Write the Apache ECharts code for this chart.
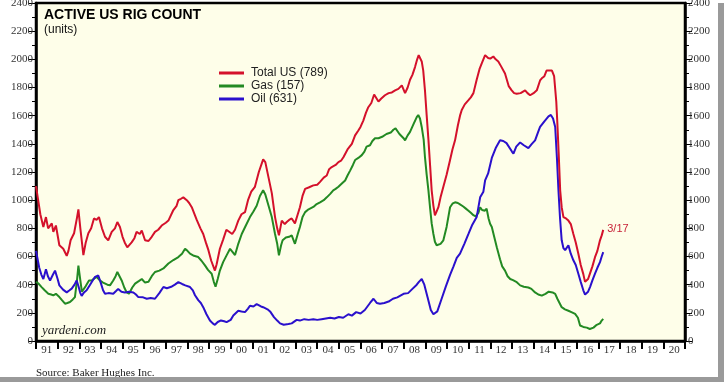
<!DOCTYPE html>
<html>
<head>
<meta charset="utf-8">
<script src="https://cdn.jsdelivr.net/npm/echarts@6/dist/echarts.min.js"></script>
<style>html,body{margin:0;padding:0;background:#fff}#c{width:724px;height:382px}</style>
</head>
<body>
<div id="c"></div>
<script>
// Year labels on the x axis
const yearLabels = ['91','92','93','94','95','96','97','98','99','00','01','02','03','04','05','06','07','08','09','10','11','12','13','14','15','16','17','18','19','20'];
const yTicks = [0,200,400,600,800,1000,1200,1400,1600,1800,2000,2200,2400];

// Total US rig count (decimal year, units)
const totalT = [1991.0,1991.08,1991.2,1991.34,1991.46,1991.56,1991.73,1991.8,1991.92,1992.08,1992.26,1992.42,1992.5,1992.6,1992.76,1992.9,1992.96,1993.05,1993.19,1993.3,1993.42,1993.55,1993.68,1993.8,1993.91,1994.05,1994.19,1994.34,1994.5,1994.65,1994.76,1994.88,1995.0,1995.1,1995.22,1995.42,1995.55,1995.65,1995.8,1995.89,1996.04,1996.2,1996.35,1996.5,1996.65,1996.81,1997.0,1997.12,1997.35,1997.5,1997.58,1997.7,1997.81,1997.97,1998.08,1998.2,1998.43,1998.6,1998.73,1998.85,1998.97,1999.1,1999.27,1999.35,1999.5,1999.65,1999.8,1999.89,2000.07,2000.2,2000.35,2000.5,2000.66,2000.8,2000.95,2001.12,2001.3,2001.5,2001.6,2001.75,2001.9,2002.05,2002.15,2002.23,2002.36,2002.5,2002.59,2002.7,2002.82,2002.97,2003.1,2003.2,2003.32,2003.44,2003.6,2003.82,2004.0,2004.13,2004.3,2004.44,2004.55,2004.67,2004.85,2004.98,2005.1,2005.21,2005.4,2005.6,2005.75,2005.9,2006.0,2006.13,2006.25,2006.36,2006.5,2006.63,2006.75,2006.83,2006.95,2007.13,2007.3,2007.45,2007.6,2007.75,2007.91,2008.06,2008.18,2008.29,2008.4,2008.52,2008.62,2008.69,2008.83,2008.9,2008.98,2009.06,2009.14,2009.22,2009.29,2009.37,2009.44,2009.52,2009.6,2009.7,2009.83,2009.98,2010.14,2010.25,2010.37,2010.5,2010.6,2010.68,2010.82,2010.99,2011.1,2011.22,2011.37,2011.5,2011.6,2011.76,2011.9,2012.0,2012.14,2012.25,2012.37,2012.5,2012.68,2012.85,2012.99,2013.1,2013.22,2013.4,2013.61,2013.72,2013.84,2014.0,2014.15,2014.3,2014.38,2014.5,2014.6,2014.69,2014.85,2014.95,2015.05,2015.1,2015.17,2015.23,2015.3,2015.38,2015.5,2015.61,2015.72,2015.84,2015.95,2016.07,2016.18,2016.3,2016.38,2016.43,2016.52,2016.61,2016.72,2016.84,2016.95,2017.07,2017.15,2017.22];
const totalV = [1100,1020,900,810,880,800,835,775,820,680,655,605,640,715,765,880,935,800,610,700,765,800,870,860,880,800,740,715,775,800,845,810,740,700,665,700,730,775,760,785,715,710,740,775,790,820,840,855,930,960,1000,1010,1020,1000,980,950,860,800,760,700,645,570,500,545,655,720,790,800,760,790,855,900,915,1000,1060,1095,1200,1290,1270,1160,1050,880,800,750,855,830,845,860,870,835,900,950,1030,1080,1090,1105,1110,1130,1160,1175,1220,1235,1250,1270,1280,1305,1360,1400,1460,1495,1520,1565,1620,1660,1690,1750,1720,1700,1720,1745,1760,1765,1780,1790,1815,1760,1800,1855,1890,1945,2000,2030,1985,1920,1780,1600,1430,1240,1070,960,893,920,950,1020,1095,1180,1285,1360,1425,1530,1600,1640,1680,1710,1730,1760,1855,1930,1970,2030,2010,2005,2020,2000,1985,1950,1900,1810,1780,1760,1755,1760,1780,1760,1745,1760,1780,1850,1865,1880,1920,1925,1920,1880,1700,1545,1300,1070,950,880,870,855,830,760,700,620,540,475,420,410,440,480,530,595,640,715,750,789];

// Gas rigs
const gasT = [1991.0,1991.1,1991.26,1991.4,1991.57,1991.7,1991.8,1991.92,1992.08,1992.2,1992.34,1992.45,1992.57,1992.7,1992.8,1992.9,1992.96,1993.05,1993.12,1993.19,1993.3,1993.45,1993.57,1993.7,1993.8,1993.95,1994.1,1994.19,1994.3,1994.42,1994.57,1994.68,1994.76,1994.86,1994.96,1995.08,1995.19,1995.3,1995.45,1995.58,1995.75,1995.89,1996.04,1996.2,1996.35,1996.5,1996.7,1996.89,1997.12,1997.35,1997.58,1997.75,1997.89,1998.0,1998.12,1998.3,1998.5,1998.65,1998.81,1998.95,1999.12,1999.22,1999.3,1999.4,1999.5,1999.65,1999.81,1999.97,2000.1,2000.2,2000.35,2000.51,2000.7,2000.89,2001.05,2001.2,2001.35,2001.5,2001.6,2001.75,2001.9,2002.05,2002.15,2002.23,2002.33,2002.4,2002.55,2002.7,2002.82,2002.97,2003.1,2003.2,2003.32,2003.44,2003.6,2003.82,2003.95,2004.13,2004.3,2004.44,2004.6,2004.74,2004.85,2004.98,2005.15,2005.29,2005.4,2005.52,2005.65,2005.75,2005.9,2006.06,2006.18,2006.28,2006.44,2006.55,2006.67,2006.83,2007.0,2007.2,2007.4,2007.52,2007.62,2007.8,2007.99,2008.06,2008.18,2008.29,2008.45,2008.6,2008.67,2008.75,2008.83,2008.92,2008.98,2009.06,2009.14,2009.22,2009.29,2009.37,2009.44,2009.52,2009.6,2009.7,2009.83,2009.98,2010.06,2010.14,2010.25,2010.37,2010.5,2010.6,2010.75,2010.87,2010.99,2011.1,2011.22,2011.32,2011.45,2011.53,2011.62,2011.75,2011.83,2011.92,2011.99,2012.07,2012.18,2012.3,2012.45,2012.55,2012.68,2012.8,2012.92,2013.05,2013.2,2013.38,2013.55,2013.76,2013.9,2014.07,2014.22,2014.38,2014.55,2014.7,2014.77,2014.88,2015.0,2015.1,2015.2,2015.3,2015.45,2015.61,2015.75,2015.92,2016.05,2016.15,2016.3,2016.46,2016.6,2016.77,2016.92,2017.07,2017.15,2017.22];
const gasV = [420,410,383,360,336,330,324,335,312,290,265,270,277,295,312,440,535,430,350,336,390,430,430,445,455,430,415,405,400,395,430,460,490,460,430,380,345,336,380,407,425,440,415,420,460,490,500,515,550,575,596,620,655,640,620,605,596,570,537,505,478,420,385,440,500,560,608,655,630,610,690,760,820,880,920,960,1030,1070,1040,960,880,760,690,608,680,715,735,740,750,690,760,810,880,915,935,952,970,985,1000,1020,1045,1070,1080,1095,1120,1140,1175,1210,1250,1285,1300,1320,1345,1380,1390,1420,1440,1440,1450,1470,1480,1500,1510,1470,1440,1425,1460,1485,1540,1590,1605,1580,1520,1430,1305,1180,1070,940,835,760,705,680,675,690,715,810,880,950,975,985,980,970,955,940,925,910,893,885,910,950,930,925,940,870,833,810,740,665,580,530,500,460,440,432,420,395,385,380,370,345,330,322,335,350,360,345,335,300,270,240,225,215,205,192,165,110,100,95,85,95,115,125,145,157];

// Oil rigs
const oilT = [1991.0,1991.05,1991.15,1991.25,1991.34,1991.46,1991.55,1991.65,1991.78,1991.88,1992.0,1992.08,1992.25,1992.42,1992.55,1992.65,1992.78,1992.88,1992.96,1993.05,1993.11,1993.22,1993.34,1993.5,1993.62,1993.73,1993.88,1993.98,1994.1,1994.19,1994.35,1994.57,1994.7,1994.8,1994.95,1995.11,1995.3,1995.5,1995.62,1995.73,1995.95,1996.12,1996.3,1996.5,1996.7,1996.89,1997.05,1997.25,1997.42,1997.58,1997.75,1997.9,1998.12,1998.25,1998.35,1998.5,1998.62,1998.73,1998.88,1999.04,1999.17,1999.27,1999.4,1999.55,1999.7,1999.81,2000.0,2000.12,2000.35,2000.5,2000.66,2000.8,2000.89,2001.05,2001.2,2001.4,2001.5,2001.7,2001.82,2002.0,2002.15,2002.28,2002.45,2002.67,2002.82,2003.05,2003.2,2003.4,2003.6,2003.82,2004.0,2004.2,2004.4,2004.6,2004.8,2005.0,2005.2,2005.44,2005.6,2005.8,2006.0,2006.2,2006.44,2006.6,2006.75,2006.9,2007.1,2007.3,2007.5,2007.7,2007.99,2008.2,2008.4,2008.6,2008.7,2008.83,2008.95,2009.1,2009.25,2009.37,2009.45,2009.55,2009.75,2009.95,2010.14,2010.3,2010.45,2010.6,2010.8,2010.99,2011.15,2011.37,2011.53,2011.68,2011.76,2011.9,2012.07,2012.25,2012.45,2012.6,2012.75,2012.84,2013.0,2013.07,2013.2,2013.38,2013.55,2013.76,2013.92,2014.07,2014.2,2014.3,2014.5,2014.69,2014.8,2014.9,2015.0,2015.08,2015.15,2015.22,2015.3,2015.38,2015.46,2015.55,2015.61,2015.72,2015.84,2015.95,2016.07,2016.18,2016.3,2016.38,2016.43,2016.52,2016.61,2016.72,2016.84,2016.95,2017.07,2017.15,2017.22];
const oilV = [640,600,520,470,440,510,460,430,470,500,440,395,365,345,360,372,400,430,390,340,320,345,360,400,430,455,465,420,360,335,340,336,355,370,350,345,350,345,330,312,310,300,305,300,340,383,375,385,400,418,405,395,383,360,325,290,270,240,190,146,125,115,135,146,140,134,150,181,215,210,205,230,250,245,262,245,240,225,210,170,145,125,115,120,125,150,145,155,150,155,150,155,160,165,160,170,165,190,180,205,195,220,270,300,270,265,270,280,300,310,335,340,370,400,420,440,400,310,220,190,185,210,300,390,470,530,590,620,690,760,820,880,1020,1060,1140,1190,1300,1370,1425,1420,1405,1400,1345,1330,1380,1410,1390,1370,1400,1425,1480,1520,1560,1595,1605,1580,1520,1300,1070,880,715,660,645,650,680,620,573,540,478,420,360,330,320,350,383,430,478,520,560,600,631];

const seriesNames = ['Total US (789)','Gas (157)','Oil (631)'];
const lastLabel = '3/17';

const pair = (t, v) => t.map((x, i) => [x, v[i]]);

const chart = echarts.init(document.getElementById('c'), null, {renderer: 'canvas'});
const serif = '"Liberation Serif", "Times New Roman", serif';
const sans = '"Liberation Sans", Arial, sans-serif';

const yAxisCommon = {
  type: 'value', min: yTicks[0], max: yTicks[yTicks.length - 1], interval: yTicks[1] - yTicks[0],
  axisLine: {show: true, lineStyle: {color: '#000', width: 2.5}},
  axisTick: {show: true, length: 7, lineStyle: {color: '#000', width: 1}},
  minorTick: {show: true, splitNumber: 2, length: 4, lineStyle: {color: '#000', width: 1}},
  splitLine: {show: false},
  axisLabel: {fontFamily: serif, fontSize: 11, color: '#333', margin: 3, formatter: v => String(v)}
};

chart.setOption({
  animation: false,
  backgroundColor: '#ffffff',
  title: {
    text: 'ACTIVE US RIG COUNT', subtext: '(units)',
    left: 39, top: 3, itemGap: 2,
    textStyle: {fontFamily: sans, fontWeight: 'bold', fontSize: 14, color: '#000'},
    subtextStyle: {fontFamily: sans, fontSize: 12, color: '#111'}
  },
  legend: {
    orient: 'vertical', left: 214, top: 62,
    itemWidth: 25, itemHeight: 3, itemGap: 1,
    icon: 'rect',
    data: seriesNames,
    textStyle: {fontFamily: sans, fontSize: 12, color: '#222', padding: [0,0,0,2]}
  },
  grid: {
    left: 36, right: 39, top: 3, bottom: 41,
    show: true, backgroundColor: '#fefee9', borderColor: '#000', borderWidth: 2.5,
    containLabel: false, outerBoundsMode: 'none'
  },
  xAxis: [
    {
      type: 'category', data: yearLabels, boundaryGap: true, position: 'bottom',
      axisLine: {show: true, lineStyle: {color: '#000', width: 2.5}},
      axisTick: {show: true, length: 8, lineStyle: {color: '#000', width: 2}},
      axisLabel: {fontFamily: serif, fontSize: 11, color: '#333', margin: 4, interval: 0},
      splitLine: {show: false}
    },
    {type: 'value', min: 1991, max: 2021, show: false}
  ],
  yAxis: [
    Object.assign({position: 'left'}, yAxisCommon),
    Object.assign({position: 'right'}, yAxisCommon)
  ],
  series: [
    {
      name: seriesNames[0], type: 'line', xAxisIndex: 1, yAxisIndex: 0,
      data: pair(totalT, totalV), showSymbol: false, symbol: 'none',
      lineStyle: {color: '#d4112b', width: 2}, itemStyle: {color: '#d4112b'}, z: 4,
      endLabel: {show: true, formatter: lastLabel, color: '#c8243a', fontFamily: sans, fontSize: 11, distance: 4, offset: [0, -1]}
    },
    {
      name: seriesNames[1], type: 'line', xAxisIndex: 1, yAxisIndex: 0,
      data: pair(gasT, gasV), showSymbol: false, symbol: 'none',
      lineStyle: {color: '#238a23', width: 2}, itemStyle: {color: '#238a23'}, z: 3
    },
    {
      name: seriesNames[2], type: 'line', xAxisIndex: 1, yAxisIndex: 0,
      data: pair(oilT, oilV), showSymbol: false, symbol: 'none',
      lineStyle: {color: '#2a10cc', width: 2}, itemStyle: {color: '#2a10cc'}, z: 3
    }
  ],
  graphic: [
    {type: 'text', left: 42, top: 324, style: {text: 'yardeni.com', font: 'italic 13px ' + serif, fill: '#222'}, z: 10},
    {type: 'text', left: 36, top: 368, style: {text: 'Source: Baker Hughes Inc.', font: '11px ' + serif, fill: '#222'}, z: 10},
    {type: 'rect', shape: {x: 718, y: 3, width: 6, height: 379}, style: {fill: '#9a9a9a'}, z: 10},
    {type: 'rect', shape: {x: 0, y: 377, width: 724, height: 5}, style: {fill: '#9a9a9a'}, z: 10}
  ]
});
</script>
</body>
</html>
